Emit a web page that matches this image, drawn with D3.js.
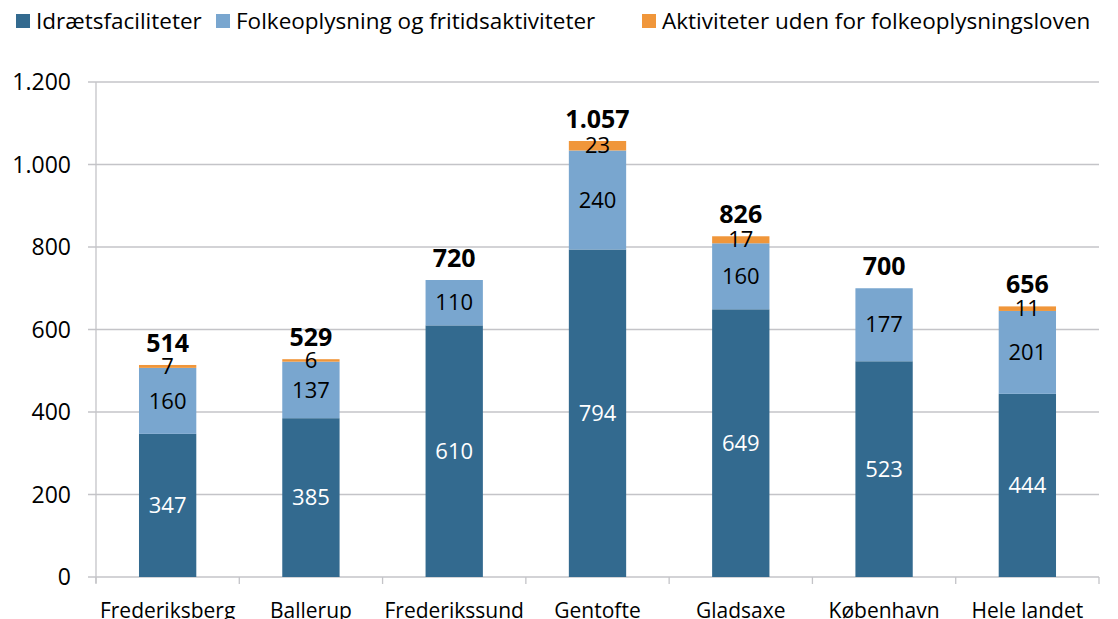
<!DOCTYPE html>
<html>
<head>
<meta charset="utf-8">
<script src="https://cdn.jsdelivr.net/npm/d3@7"></script>
<style>
  body { margin: 0; background: #fff; }
  svg { font-family: "Open Sans", Lato, sans-serif; }
</style>
</head>
<body>
<div class="chart"></div>
<script>
// data
var categories = ["Frederiksberg", "Ballerup", "Frederikssund", "Gentofte", "Gladsaxe", "København", "Hele landet"];
var idraet = [347, 385, 610, 794, 649, 523, 444];
var folkeopl = [160, 137, 110, 240, 160, 177, 201];
var uden = [7, 6, 0, 23, 17, 0, 11];
var totals = [514, 529, 720, 1057, 826, 700, 656];
var seriesNames = ["Idrætsfaciliteter", "Folkeoplysning og fritidsaktiviteter", "Aktiviteter uden for folkeoplysningsloven"];
var yTicks = [0, 200, 400, 600, 800, 1000, 1200];

var W = 1118, H = 619;
var margin = {left: 96, right: 19, top: 82, bottom: 42};
var colors = ["#336a8f", "#79a6cf", "#f0963a"];

var fmt = function(v) { return d3.format(",")(v).replace(/,/g, "."); };

var svg = d3.select(".chart").append("svg")
  .attr("width", W).attr("height", H);

var x = d3.scaleBand()
  .domain(categories)
  .range([margin.left, W - margin.right])
  .paddingInner(0.6).paddingOuter(0.3);

var y = d3.scaleLinear()
  .domain([0, 1200])
  .range([H - margin.bottom, margin.top]);

// gridlines
svg.append("g").selectAll("line")
  .data(yTicks).enter().append("line")
  .attr("x1", margin.left - 8).attr("x2", W - margin.right)
  .attr("y1", function(d) { return y(d); }).attr("y2", function(d) { return y(d); })
  .attr("stroke", "#c4c4c8").attr("stroke-width", 1.3);

// y labels
svg.append("g").selectAll("text")
  .data(yTicks).enter().append("text")
  .attr("x", 71).attr("y", function(d) { return y(d); })
  .attr("dy", "0.35em")
  .attr("text-anchor", "end")
  .attr("font-size", 23)
  .attr("fill", "#000")
  .text(fmt);

// y axis line
svg.append("line")
  .attr("x1", margin.left).attr("x2", margin.left)
  .attr("y1", y(1200)).attr("y2", y(0) + 6)
  .attr("stroke", "#c4c4c8").attr("stroke-width", 1.3);

// category ticks
var catW = (W - margin.right - margin.left) / categories.length;
svg.append("g").selectAll("line")
  .data(d3.range(categories.length + 1)).enter().append("line")
  .attr("x1", function(i) { return margin.left + i * catW; })
  .attr("x2", function(i) { return margin.left + i * catW; })
  .attr("y1", y(0)).attr("y2", y(0) + 7)
  .attr("stroke", "#c4c4c8").attr("stroke-width", 1.3);

// stack
var rows = categories.map(function(c, i) {
  return {cat: c, a: idraet[i], b: folkeopl[i], c: uden[i], total: totals[i]};
});
var stack = d3.stack().keys(["a", "b", "c"]);
var layers = stack(rows);

var g = svg.append("g");
layers.forEach(function(layer, li) {
  g.selectAll(".bar" + li)
    .data(layer).enter().append("rect")
    .attr("x", function(d) { return x(d.data.cat); })
    .attr("width", x.bandwidth())
    .attr("y", function(d) { return y(d[1]); })
    .attr("height", function(d) { return y(d[0]) - y(d[1]); })
    .attr("fill", colors[li]);
});

// segment labels
layers.forEach(function(layer, li) {
  g.selectAll(".lab" + li)
    .data(layer.filter(function(d) { return d[1] - d[0] > 0; })).enter().append("text")
    .attr("x", function(d) { return x(d.data.cat) + x.bandwidth() / 2; })
    .attr("y", function(d) { return y((d[0] + d[1]) / 2); })
    .attr("dy", "0.35em")
    .attr("text-anchor", "middle")
    .attr("font-size", 22)
    .attr("fill", li == 0 ? "#fff" : "#000")
    .text(function(d) { return fmt(d[1] - d[0]); });
});

// totals
g.selectAll(".total")
  .data(rows).enter().append("text")
  .attr("x", function(d) { return x(d.cat) + x.bandwidth() / 2; })
  .attr("y", function(d) { return y(d.total) - 13; })
  .attr("text-anchor", "middle")
  .attr("font-size", 25)
  .attr("font-weight", "bold")
  .attr("fill", "#000")
  .text(function(d) { return fmt(d.total); });

// category labels
svg.append("g").selectAll("text")
  .data(categories).enter().append("text")
  .attr("x", function(d) { return x(d) + x.bandwidth() / 2; })
  .attr("y", 618)
  .attr("text-anchor", "middle")
  .attr("font-size", 21)
  .attr("fill", "#000")
  .text(function(d) { return d; });

// legend
var legendX = [16, 216, 642];
var legend = svg.append("g").selectAll("g")
  .data(seriesNames).enter().append("g")
  .attr("transform", function(d, i) { return "translate(" + legendX[i] + ",14)"; });
legend.append("rect")
  .attr("width", 14).attr("height", 14)
  .attr("fill", function(d, i) { return colors[i]; });
legend.append("text")
  .attr("x", 20).attr("y", 7).attr("dy", "0.35em")
  .attr("font-size", 22.5)
  .attr("fill", "#000")
  .text(function(d) { return d; });
</script>
</body>
</html>
